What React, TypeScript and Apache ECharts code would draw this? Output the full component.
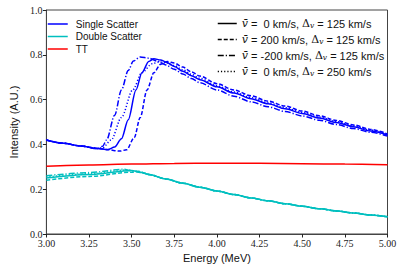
import React, { useEffect, useRef } from "react";
import * as echarts from "echarts";

// Single scatter (blue)
const ssV0D125: [number, number][] = [
  [3.0, 0.42], [3.1, 0.405], [3.2, 0.393], [3.3, 0.382], [3.36, 0.377], [3.4, 0.388],
  [3.44, 0.425], [3.48, 0.51], [3.525, 0.643], [3.56, 0.72], [3.6, 0.77], [3.63, 0.782],
  [3.67, 0.777], [3.7, 0.768], [3.75, 0.748], [3.8, 0.727], [3.85, 0.707], [3.9, 0.689],
  [4.0, 0.657], [4.1, 0.629], [4.2, 0.604], [4.3, 0.581], [4.4, 0.559], [4.5, 0.538],
  [4.6, 0.518], [4.7, 0.498], [4.8, 0.479], [4.9, 0.46], [5.0, 0.442],
];
const ssV200D125: [number, number][] = [
  [3.0, 0.42], [3.1, 0.405], [3.2, 0.393], [3.3, 0.382], [3.36, 0.376], [3.43, 0.37],
  [3.47, 0.376], [3.515, 0.43], [3.55, 0.52], [3.59, 0.643], [3.63, 0.72], [3.67, 0.758],
  [3.71, 0.77], [3.75, 0.763], [3.8, 0.745], [3.85, 0.724], [3.9, 0.705], [4.0, 0.671],
  [4.1, 0.643], [4.2, 0.617], [4.3, 0.593], [4.4, 0.571], [4.5, 0.549], [4.6, 0.528],
  [4.7, 0.507], [4.8, 0.487], [4.9, 0.467], [5.0, 0.447],
];
const ssVm200D125: [number, number][] = [
  [3.0, 0.42], [3.1, 0.405], [3.2, 0.393], [3.3, 0.381], [3.33, 0.392], [3.353, 0.42],
  [3.4, 0.53], [3.44, 0.643], [3.48, 0.73], [3.51, 0.772], [3.55, 0.79], [3.6, 0.785],
  [3.65, 0.772], [3.7, 0.755], [3.75, 0.735], [3.8, 0.714], [3.85, 0.694], [3.9, 0.675],
  [4.0, 0.643], [4.1, 0.615], [4.2, 0.59], [4.3, 0.568], [4.4, 0.547], [4.5, 0.527],
  [4.6, 0.508], [4.7, 0.489], [4.8, 0.471], [4.9, 0.454], [5.0, 0.437],
];
const ssV0D250: [number, number][] = [
  [3.0, 0.42], [3.1, 0.405], [3.2, 0.393], [3.3, 0.382], [3.33, 0.385], [3.38, 0.42],
  [3.44, 0.52], [3.506, 0.643], [3.56, 0.72], [3.62, 0.76], [3.66, 0.768], [3.7, 0.764],
  [3.75, 0.752], [3.8, 0.733], [3.85, 0.713], [3.9, 0.695], [4.0, 0.662], [4.1, 0.634],
  [4.2, 0.609], [4.3, 0.586], [4.4, 0.564], [4.5, 0.542], [4.6, 0.522], [4.7, 0.502],
  [4.8, 0.483], [4.9, 0.464], [5.0, 0.445],
];

// Double scatter (cyan)
const dsTail: [number, number][] = [
  [3.6, 0.266], [3.7, 0.246], [3.8, 0.227], [3.9, 0.209], [4.0, 0.192], [4.1, 0.176],
  [4.2, 0.161], [4.3, 0.148], [4.4, 0.135], [4.5, 0.124], [4.6, 0.113], [4.7, 0.103],
  [4.8, 0.094], [4.9, 0.085], [5.0, 0.077],
];
const dsV0D125Head: [number, number][] = [
  [3.0, 0.25], [3.25, 0.266], [3.5, 0.284], [3.55, 0.276],
];
const dsV200D125Head: [number, number][] = [
  [3.0, 0.24], [3.25, 0.257], [3.5, 0.276], [3.54, 0.28], [3.58, 0.271],
];
const dsVm200D125Head: [number, number][] = [
  [3.0, 0.26], [3.25, 0.274], [3.45, 0.289], [3.5, 0.283], [3.55, 0.275],
];
const dsV0D250Head: [number, number][] = [
  [3.0, 0.254], [3.25, 0.269], [3.48, 0.286], [3.52, 0.28], [3.56, 0.274],
];

// TT (red)
const ttLine: [number, number][] = [
  [3.0, 0.303], [3.25, 0.308], [3.5, 0.312], [3.75, 0.315], [4.0, 0.316], [4.25, 0.316],
  [4.5, 0.314], [4.75, 0.312], [5.0, 0.309],
];

const componentNames = ["Single Scatter", "Double Scatter", "TT"];
const styleNames = ["v0d125", "v200d125", "vm200d125", "v0d250"];
const styleLabels = [
  "{i|v\u0304} =  0 km/s, {g|\u0394}{s|v} = 125 km/s",
  "{i|v\u0304} = 200 km/s, {g|\u0394}{s|v} = 125 km/s",
  "{i|v\u0304} = -200 km/s, {g|\u0394}{s|v} = 125 km/s",
  "{i|v\u0304} =  0 km/s, {g|\u0394}{s|v} = 250 km/s",
];

const xTicks = { min: 3, max: 5, step: 0.25 };
const yTicks = { min: 0, max: 1, step: 0.2 };

const BLUE = "#0000ff";
const CYAN = "#00bfbf";
const RED = "#ff0000";
const LW = 1.5;
const dashTypes: any[] = ["solid", [4, 2], [6, 2, 1.2, 2], [1.2, 2]];

export default function App() {
  const ref = useRef<HTMLDivElement>(null);
  useEffect(() => {
    if (!ref.current) return;
    const chart = echarts.init(ref.current, undefined, { renderer: "svg" });
    const mk = (name: string, data: [number, number][], color: string, ti: number) => ({
      type: "line",
      name,
      data,
      symbol: "none",
      showSymbol: false,
      smooth: 0.3,
      smoothMonotone: "x",
      lineStyle: { color, width: LW, type: dashTypes[ti] },
      itemStyle: { color },
      z: 3,
    });
    const series: any[] = [
      mk("Single Scatter", ssV0D125, BLUE, 0),
      mk("Single Scatter", ssV200D125, BLUE, 1),
      mk("Single Scatter", ssVm200D125, BLUE, 2),
      mk("Single Scatter", ssV0D250, BLUE, 3),
      mk("Double Scatter", [...dsV0D125Head, ...dsTail], CYAN, 0),
      mk("Double Scatter", [...dsV200D125Head, ...dsTail], CYAN, 1),
      mk("Double Scatter", [...dsVm200D125Head, ...dsTail], CYAN, 2),
      mk("Double Scatter", [...dsV0D250Head, ...dsTail], CYAN, 3),
      mk("TT", ttLine, RED, 0),
      ...styleNames.map((n, i) => mk(n, [], "#000000", i)),
    ];
    const labelMap: Record<string, string> = {};
    styleNames.forEach((n, i) => (labelMap[n] = styleLabels[i]));
    chart.setOption({
      animation: false,
      grid: {
        left: 38.5,
        right: 15.5,
        top: 10,
        bottom: 35,
        show: true,
        borderColor: "#444",
        borderWidth: 1,
      },
      legend: [
        {
          data: componentNames,
          orient: "vertical",
          left: 42,
          top: 14,
          itemWidth: 20,
          itemHeight: 10,
          itemGap: 2.5,
          lineStyle: { width: LW },
          itemStyle: { opacity: 0 },
          textStyle: {
            fontFamily: "Liberation Sans",
            fontSize: 10,
            color: "#111",
            padding: [0, 0, 0, 3],
          },
          selectedMode: false,
        },
        {
          data: styleNames,
          orient: "vertical",
          left: 212,
          top: 13,
          itemWidth: 19,
          itemHeight: 11,
          itemGap: 4.5,
          lineStyle: { width: LW },
          itemStyle: { opacity: 0 },
          formatter: (n: string) => labelMap[n] || n,
          textStyle: {
            fontFamily: "Liberation Sans",
            fontSize: 11,
            color: "#111",
            rich: {
              i: { fontFamily: "DejaVu Serif", fontStyle: "italic", fontSize: 11, color: "#111" },
              g: { fontFamily: "DejaVu Serif", fontSize: 11, color: "#111" },
              s: {
                fontFamily: "DejaVu Serif",
                fontStyle: "italic",
                fontSize: 7.5,
                color: "#111",
                verticalAlign: "bottom",
                padding: [4, 0, 0, 0],
              },
            },
          },
          selectedMode: false,
        },
      ],
      xAxis: {
        type: "value",
        min: xTicks.min,
        max: xTicks.max,
        interval: xTicks.step,
        name: "Energy (MeV)",
        nameLocation: "middle",
        nameGap: 16.5,
        nameTextStyle: { fontFamily: "Liberation Sans", fontSize: 11, color: "#111" },
        axisLine: { show: true, lineStyle: { color: "#444", width: 1 } },
        axisTick: { show: true, length: 3.5, lineStyle: { color: "#222" } },
        splitLine: { show: false },
        axisLabel: {
          margin: 4,
          fontFamily: "Liberation Serif",
          fontSize: 10,
          color: "#222",
          formatter: (v: number) => v.toFixed(2),
        },
      },
      yAxis: {
        type: "value",
        min: yTicks.min,
        max: yTicks.max,
        interval: yTicks.step,
        name: "Intensity (A.U.)",
        nameLocation: "middle",
        nameGap: 24,
        nameTextStyle: { fontFamily: "Liberation Sans", fontSize: 11, color: "#111" },
        axisLine: { show: true, lineStyle: { color: "#444", width: 1 } },
        axisTick: { show: true, length: 3.5, lineStyle: { color: "#222" } },
        splitLine: { show: false },
        axisLabel: {
          margin: 4,
          fontFamily: "Liberation Serif",
          fontSize: 10,
          color: "#222",
          formatter: (v: number) => v.toFixed(1),
        },
      },
      series,
    });
    return () => chart.dispose();
  }, []);
  return <div ref={ref} style={{ width: 403, height: 269, position: "absolute", left: 0, top: 0 }} />;
}
